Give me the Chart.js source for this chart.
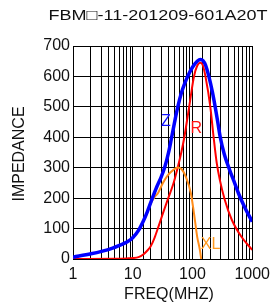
<!DOCTYPE html>
<html>
<head>
<meta charset="utf-8">
<script src="https://cdn.jsdelivr.net/npm/chart.js@4.4.1/dist/chart.umd.min.js"></script>
<style>
  html, body { margin: 0; padding: 0; background: #fff; }
  #wrap { width: 276px; height: 307px; }
</style>
</head>
<body>
<div id="wrap"><canvas id="impChart" width="276" height="307"></canvas></div>
<script>
// Datos (frecuencia en MHz, impedancia en ohm)
const chartTitle = 'FBM\u25A1-11-201209-601A20T';
const xTickLabels = [1, 10, 100, 1000];
const yTickLabels = [0, 100, 200, 300, 400, 500, 600, 700];

const zFreq = [1, 2, 3, 4.6, 6, 8, 10, 12.5, 15, 17.6, 20.5, 25, 30, 34.5, 40, 44, 50, 56.5, 65, 75, 83, 100, 120, 136, 150, 165, 188, 215, 240, 265, 292, 340, 418, 507, 600, 741, 870, 1000];
const zVals = [6, 17, 25, 36, 45, 56, 70, 94, 124, 156, 191, 235, 270, 303, 352, 392, 448, 498, 545, 580, 600, 630, 650, 656, 652, 638, 600, 550, 500, 450, 400, 345, 293, 250, 212, 172, 145, 123];

const rFreq = [1, 5, 8, 10, 12.5, 15, 17.6, 20, 23, 26.7, 32, 38.8, 48, 56.5, 65, 73, 88, 106, 120, 136, 150, 165, 199, 226, 255, 287, 347, 455, 660, 1000];
const rVals = [0, 1, 2, 3, 6, 15, 28, 42, 68, 104, 150, 197, 248, 300, 350, 400, 500, 600, 635, 645, 635, 600, 500, 400, 315, 260, 195, 129, 73, 30];

const xlFreq = [1, 2, 3, 4.6, 6, 8, 10, 12.5, 15, 17.6, 20.5, 23.5, 26.7, 32, 38.8, 48, 56.5, 66, 77.5, 94, 106, 120, 133, 140];
const xlVals = [6, 17, 25, 36, 45, 56, 70, 94, 123, 154, 187, 205, 218, 250, 276, 293, 301, 295, 270, 216, 150, 73, 30, 0];

// etiquetas de curva: [texto, MHz, ohm, color]
const curveLabels = [
    ['Z', 36, 453, '#1010ff'],
    ['R', 116, 427, '#ff1010'],
    ['XL', 201, 46, '#ff9a1f']
];

const FONT = "'Liberation Sans', Arial, sans-serif";

function toPoints(fs, vs) {
    return fs.map((f, i) => ({ x: f, y: vs[i] }));
}

function isDecade(v) {
    const l = Math.log10(v);
    return Math.abs(l - Math.round(l)) < 1e-9;
}

// textos fuera del área: título, nombres de ejes, etiquetas de curvas
const textPlugin = {
    id: 'textPlugin',
    afterDraw(chart) {
        const ctx = chart.ctx;
        const xs = chart.scales.x, ys = chart.scales.y;
        ctx.save();
        ctx.fillStyle = '#111';
        ctx.textAlign = 'center';
        ctx.textBaseline = 'middle';

        // título (algo más ancho que la fuente normal)
        ctx.font = '15px ' + FONT;
        const w = ctx.measureText(chartTitle).width;
        ctx.save();
        ctx.translate(158, 16);
        ctx.scale(219 / w, 1);
        ctx.fillText(chartTitle, 0, 0);
        ctx.restore();

        ctx.font = '16px ' + FONT;
        ctx.fillText('FREQ(MHZ)', 169, 295);

        ctx.save();
        ctx.translate(20, 154);
        ctx.rotate(-Math.PI / 2);
        ctx.fillText('IMPEDANCE', 0, 0);
        ctx.restore();

        ctx.font = '16px ' + FONT;
        curveLabels.forEach(([txt, f, v, col]) => {
            ctx.fillStyle = col;
            ctx.fillText(txt, xs.getPixelForValue(f), ys.getPixelForValue(v));
        });
        ctx.restore();
    }
};

const ctx = document.getElementById('impChart').getContext('2d');

window.impChartInstance = new Chart(ctx, {
    type: 'line',
    data: {
        datasets: [
            {
                label: 'Z',
                data: toPoints(zFreq, zVals),
                borderColor: '#0000ff',
                borderWidth: 3.5,
                pointRadius: 0,
                cubicInterpolationMode: 'monotone',
                fill: false
            },
            {
                label: 'XL',
                data: toPoints(xlFreq, xlVals),
                borderColor: '#ff8c1a',
                borderWidth: 2,
                pointRadius: 0,
                cubicInterpolationMode: 'monotone',
                fill: false
            },
            {
                label: 'R',
                data: toPoints(rFreq, rVals),
                borderColor: '#ff0000',
                borderWidth: 2,
                pointRadius: 0,
                cubicInterpolationMode: 'monotone',
                fill: false
            }
        ]
    },
    options: {
        responsive: false,
        animation: false,
        devicePixelRatio: 1,
        layout: { padding: { top: 46, right: 20, bottom: 0, left: 0 } },
        plugins: {
            legend: { display: false },
            tooltip: { enabled: false },
            title: { display: false }
        },
        scales: {
            x: {
                type: 'logarithmic',
                min: 1,
                max: 1000,
                afterFit(scale) { scale.height = 48; },
                grid: {
                    color: '#000',
                    lineWidth: 1,
                    drawTicks: false
                },
                border: { color: '#000', width: 1 },
                ticks: {
                    autoSkip: false,
                    maxRotation: 0,
                    padding: 6,
                    color: '#111',
                    font: { family: FONT, size: 16 },
                    callback: (v) => (isDecade(v) && xTickLabels.includes(Math.round(v))) ? String(Math.round(v)) : ''
                }
            },
            y: {
                type: 'linear',
                min: 0,
                max: 700,
                afterFit(scale) { scale.width = 73; },
                afterBuildTicks(scale) { scale.ticks = yTickLabels.map(v => ({ value: v })); },
                grid: {
                    color: '#000',
                    lineWidth: 1,
                    drawTicks: false
                },
                border: { color: '#000', width: 1 },
                ticks: {
                    padding: 3,
                    color: '#111',
                    font: { family: FONT, size: 16 }
                }
            }
        }
    },
    plugins: [textPlugin]
});
</script>
</body>
</html>
